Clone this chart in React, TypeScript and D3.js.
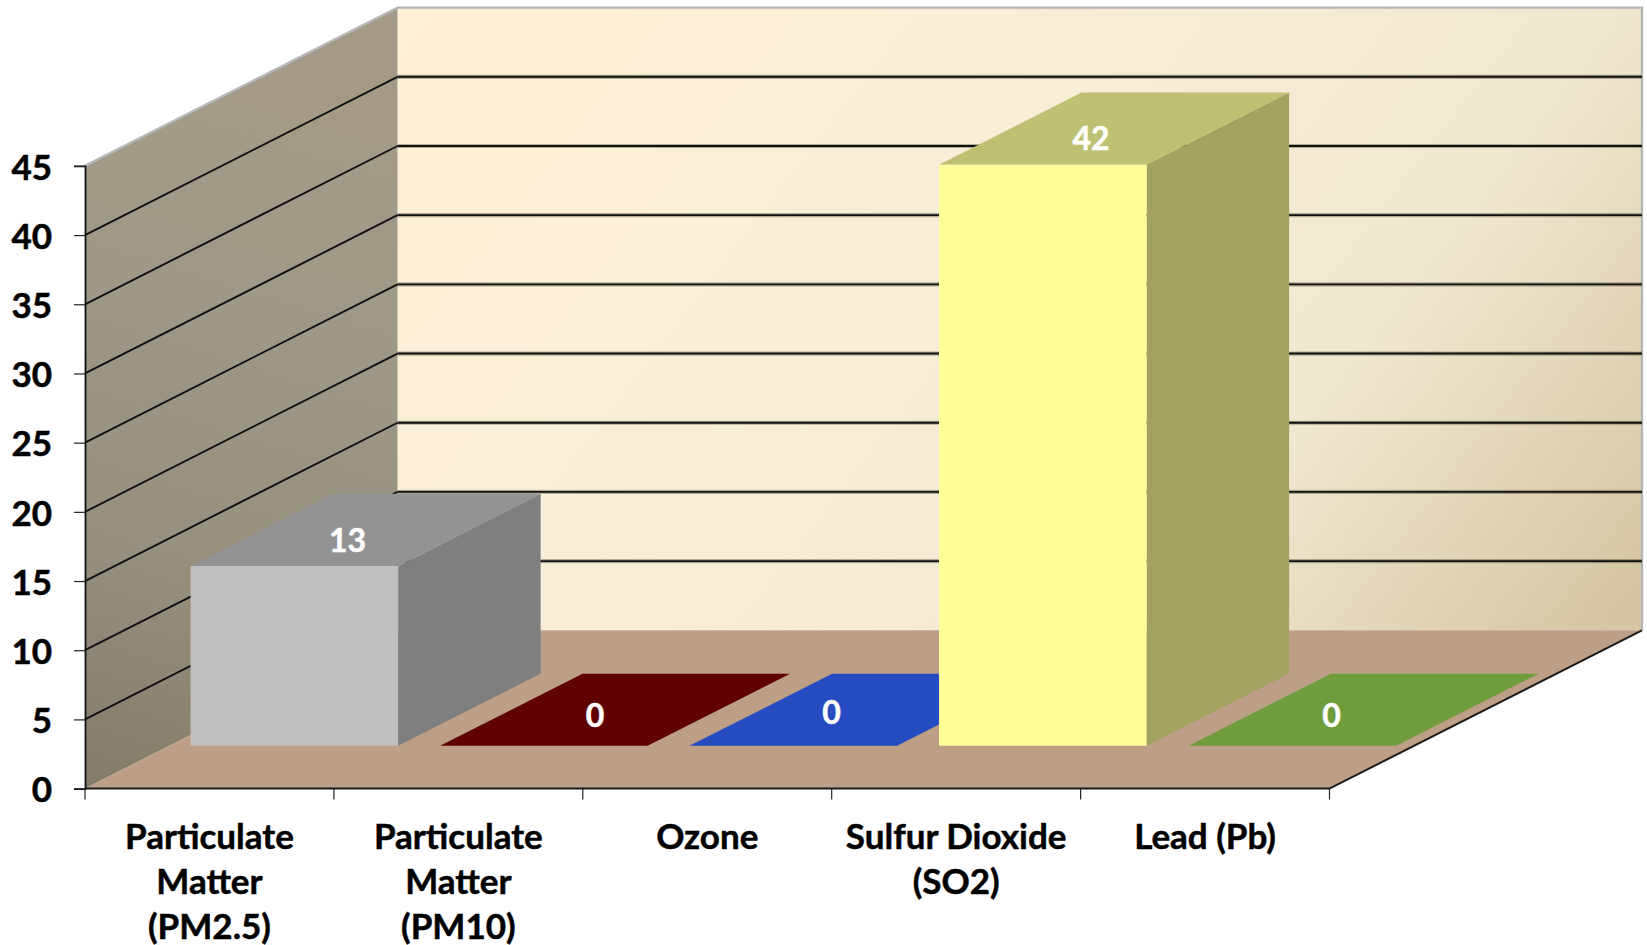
import React, { useRef, useEffect } from 'react';
import * as d3 from 'd3';

const categories = ['Particulate Matter (PM2.5)', 'Particulate Matter (PM10)', 'Ozone', 'Sulfur Dioxide (SO2)', 'Lead (Pb)'];
const categoryLines = [['Particulate', 'Matter', '(PM2.5)'], ['Particulate', 'Matter', '(PM10)'], ['Ozone'], ['Sulfur Dioxide', '(SO2)'], ['Lead (Pb)']];
const values = [13, 0, 0, 42, 0];
const yTicks = [0, 5, 10, 15, 20, 25, 30, 35, 40, 45];

// face colours, one per bar
const frontColors = ['#bfbfbf', '#600000', '#254cc0', '#ffff99', '#6f9d3b'];
const sideColors = ['#7f7f7f', '#600000', '#254cc0', '#a2a361', '#6f9d3b'];
const topColors = ['#939393', '#600000', '#254cc0', '#bfc172', '#6f9d3b'];

// value labels sit by hand on the top faces
const labelNudgeX = [-18, -20, -33, -23, -32];
const labelNudgeY = [-13.5, -18.7, -21.5, -14.5, -18.7];

const FONT = 'Lato, "Open Sans", sans-serif';

const App: React.FC = () => {
  const svgRef = useRef<SVGSVGElement | null>(null);

  useEffect(() => {
    const svg = d3.select(svgRef.current);
    svg.selectAll('*').remove();

    const width = 1647;
    const height = 945;
    svg.attr('width', width).attr('height', height)
      .style('position', 'absolute').style('left', 0).style('top', 0)
      .style('background', '#fff');

    const y = d3.scaleLinear().domain([0, 45]).range([788.6, 165.9]);
    const x = d3.scaleBand<string>().domain(categories).range([85, 1329.5]);
    const xBar = d3.scaleBand<string>().domain(categories).range([85.2, 1332.7])
      .paddingInner(0.168).paddingOuter(0.084);
    // oblique depth axis: 0 is the front of the floor, 1 the back wall
    const depthX = d3.scaleLinear().domain([0, 1]).range([0, 312.5]);
    const depthY = d3.scaleLinear().domain([0, 1]).range([0, 158.3]);
    const barNear = 0.27;
    const barFar = 0.726;

    const pt = (px: number, v: number, d: number): [number, number] => [px + depthX(d), y(v) - depthY(d)];
    const poly = d3.line().curve(d3.curveLinearClosed);

    const xMin = x.range()[0];
    const xMax = x.range()[1];
    const vMax = y.domain()[1];

    const defs = svg.append('defs');
    const backGrad = defs.append('linearGradient').attr('id', 'backWall')
      .attr('gradientUnits', 'userSpaceOnUse')
      .attr('x1', 450).attr('y1', -50).attr('x2', 1500).attr('y2', 760);
    [['0', '#fff0d6'], ['0.45', '#f7eed8'], ['0.72', '#f0e9d2'], ['1', '#d6c6a3']].forEach(([o, c]) => {
      backGrad.append('stop').attr('offset', o).attr('stop-color', c);
    });
    const sideGrad = defs.append('linearGradient').attr('id', 'sideWall')
      .attr('gradientUnits', 'userSpaceOnUse')
      .attr('x1', 85).attr('y1', 790).attr('x2', 300).attr('y2', 100);
    [['0', '#847c6a'], ['0.35', '#96907e'], ['0.7', '#9e9987'], ['1', '#a39b88']].forEach(([o, c]) => {
      sideGrad.append('stop').attr('offset', o).attr('stop-color', c);
    });

    // walls and floor
    svg.append('path')
      .attr('d', poly([pt(xMin, 0, 1), pt(xMin, vMax, 1), pt(xMax, vMax, 1), pt(xMax, 0, 1)]))
      .attr('fill', 'url(#backWall)');
    svg.append('path')
      .attr('d', poly([pt(xMin, 0, 0), pt(xMin, vMax, 0), pt(xMin, vMax, 1), pt(xMin, 0, 1)]))
      .attr('fill', 'url(#sideWall)');
    svg.append('path')
      .attr('d', poly([pt(xMin, 0, 0), pt(xMin, 0, 1), pt(xMax, 0, 1), pt(xMax, 0, 0)]))
      .attr('fill', '#bc9f86');

    // grey rim along the top of both walls
    svg.append('path')
      .attr('d', d3.line()([pt(xMin, vMax, 0), pt(xMin, vMax, 1), pt(xMax, vMax, 1), pt(xMax, 0, 1)]))
      .attr('fill', 'none').attr('stroke', '#b6b6b6').attr('stroke-width', 2.4);

    // gridlines on the back and side walls, dark core over a soft edge
    const grid = svg.append('g').attr('fill', 'none');
    yTicks.filter(t => t > 0 && t < vMax).forEach(t => {
      const side = d3.line()([pt(xMin, t, 0), pt(xMin, t, 1)]);
      const back = d3.line()([pt(xMin, t, 1), pt(xMax, t, 1)]);
      grid.append('path').attr('d', side).attr('stroke', '#111').attr('stroke-width', 1.9);
      grid.append('path').attr('d', back).attr('stroke', '#4a4836').attr('stroke-opacity', 0.4).attr('stroke-width', 4.2);
      grid.append('path').attr('d', back).attr('stroke', '#111').attr('stroke-width', 1.9);
    });

    // bars, painted left to right
    const barG = svg.append('g');
    categories.forEach((c, i) => {
      const x0 = xBar(c)!;
      const x1 = x0 + xBar.bandwidth();
      const v = values[i];
      barG.append('path')
        .attr('d', poly([pt(x0, v, barNear), pt(x1, v, barNear), pt(x1, v, barFar), pt(x0, v, barFar)]))
        .attr('fill', topColors[i]);
      if (v > 0) {
        barG.append('path')
          .attr('d', poly([pt(x1, 0, barNear), pt(x1, v, barNear), pt(x1, v, barFar), pt(x1, 0, barFar)]))
          .attr('fill', sideColors[i]);
        barG.append('path')
          .attr('d', poly([pt(x0, 0, barNear), pt(x0, v, barNear), pt(x1, v, barNear), pt(x1, 0, barNear)]))
          .attr('fill', frontColors[i]);
      }
    });

    // value labels
    svg.append('g').selectAll('text')
      .data(categories)
      .enter()
      .append('text')
      .attr('x', (c, i) => pt(xBar(c)! + xBar.bandwidth() / 2, values[i], (barNear + barFar) / 2)[0] + labelNudgeX[i])
      .attr('y', (c, i) => y(values[i]) - depthY(barNear) + labelNudgeY[i])
      .attr('text-anchor', 'middle')
      .attr('fill', '#fff')
      .attr('stroke', '#fff')
      .attr('stroke-width', 0.5)
      .style('font-family', FONT)
      .style('font-size', '32px')
      .style('font-weight', 700)
      .text((c, i) => values[i]);

    // y axis
    const yAxis = svg.append('g')
      .attr('transform', `translate(${xMin},0)`)
      .call(d3.axisLeft(y).tickValues(yTicks).tickSize(11).tickPadding(22).tickFormat(d3.format('d')));
    yAxis.select('.domain').attr('stroke', '#111').attr('stroke-width', 1.8);
    yAxis.selectAll('.tick line').attr('stroke', '#222').attr('stroke-width', 1.2);
    yAxis.selectAll('text')
      .attr('fill', '#000')
      .attr('stroke', '#000')
      .attr('stroke-width', 0.5)
      .attr('dy', '0.38em')
      .style('font-family', FONT)
      .style('font-size', '35px')
      .style('font-weight', 700);

    // floor front edge and right edge
    svg.append('path')
      .attr('d', d3.line()([pt(xMin, 0, 0), pt(xMax, 0, 0), pt(xMax, 0, 1)]))
      .attr('fill', 'none').attr('stroke', '#1c1a18').attr('stroke-width', 2);

    // x ticks at the band edges
    const xEdges = [...categories.map(c => x(c)!), xMax];
    svg.append('g').selectAll('line')
      .data(xEdges)
      .enter()
      .append('line')
      .attr('x1', d => d).attr('x2', d => d)
      .attr('y1', y(0)).attr('y2', y(0) + 11)
      .attr('stroke', '#222').attr('stroke-width', 1.2);

    // x labels
    const labels = svg.append('g');
    categories.forEach((c, i) => {
      const t = labels.append('text')
        .attr('text-anchor', 'middle')
        .attr('fill', '#000')
        .attr('stroke', '#000')
        .attr('stroke-width', 0.5)
        .style('font-family', FONT)
        .style('font-size', '35px')
        .style('font-weight', 700);
      categoryLines[i].forEach((line, j) => {
        t.append('tspan')
          .attr('x', x(c)! + x.bandwidth() / 2)
          .attr('y', 848.5 + j * 45)
          .text(line);
      });
    });
  }, []);

  return <svg ref={svgRef}></svg>;
};

export default App;
